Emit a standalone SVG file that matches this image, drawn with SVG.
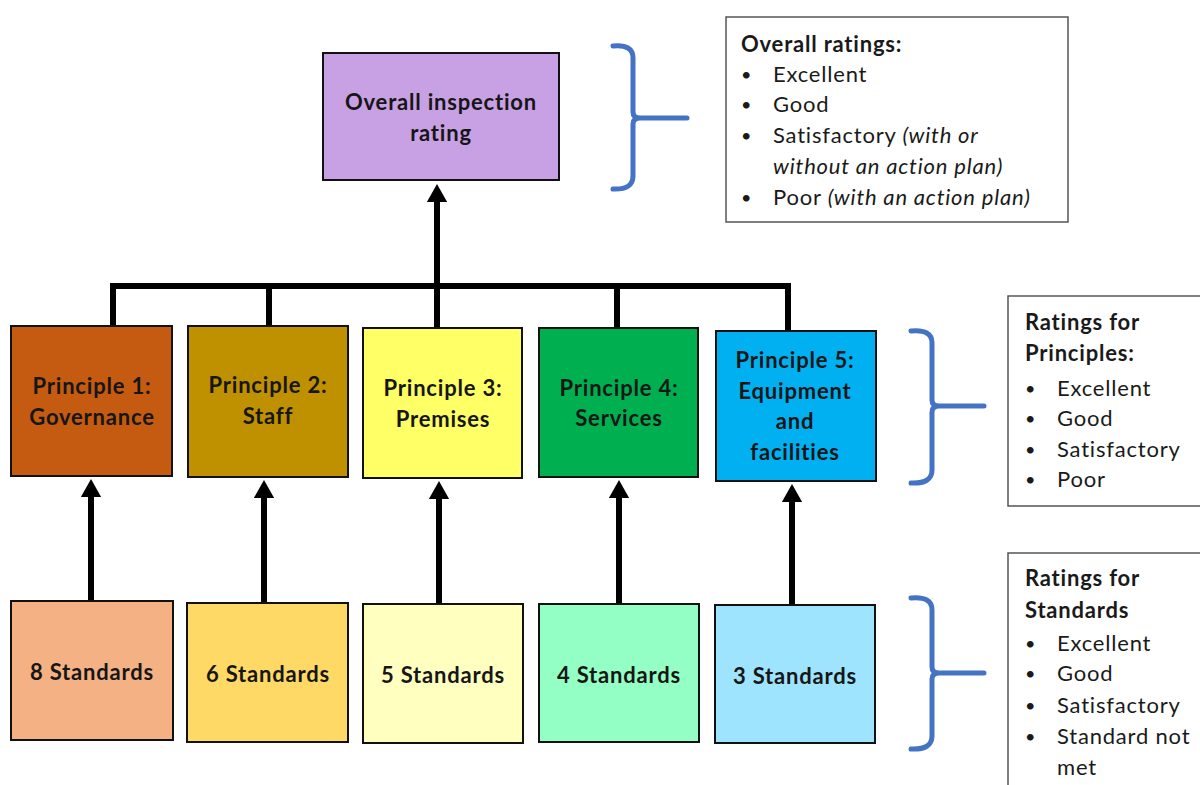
<svg xmlns="http://www.w3.org/2000/svg" width="1200" height="785" viewBox="0 0 1200 785">
<style>
.box{stroke:#111;stroke-width:2}
.lbl{font-family:Lato,"Liberation Sans",sans-serif;font-weight:bold;font-size:22px;letter-spacing:0.8px;fill:#161616;text-anchor:middle}
.conn{stroke:#000;stroke-width:6;fill:none}
.brace{stroke:#4472C4;stroke-width:5;fill:none;stroke-linecap:round}
.info{fill:#fff;stroke:#555;stroke-width:1.5}
.it{font-family:Lato,"Liberation Sans",sans-serif;font-size:22px;letter-spacing:0.8px;fill:#1a1a1a}
.bul{font-family:Lato,"Liberation Sans",sans-serif;font-size:18px;fill:#1a1a1a}
.hd{font-weight:bold}
</style>
<defs>
<marker id="ah" markerWidth="3" markerHeight="3.4" refX="0" refY="1.7" orient="auto" markerUnits="strokeWidth" viewBox="0 0 3 3.4">
<path d="M0,0 L3,1.7 L0,3.4 Z" fill="#000"/>
</marker>
</defs>
<rect width="1200" height="785" fill="#fff"/>

<g id="connectors">
<path class="conn" d="M113,329 V286 H788 V332"/>
<path class="conn" d="M269,326 V286"/>
<path class="conn" d="M617,328 V286"/>
<path class="conn" d="M437,328 V202" marker-end="url(#ah)"/>
<path class="conn" d="M91,601 V497" marker-end="url(#ah)"/>
<path class="conn" d="M264,603 V498" marker-end="url(#ah)"/>
<path class="conn" d="M439,604 V499" marker-end="url(#ah)"/>
<path class="conn" d="M619,604 V498" marker-end="url(#ah)"/>
<path class="conn" d="M792,605 V502" marker-end="url(#ah)"/>
</g>

<g id="overall">
<rect class="box" x="323" y="53" width="236" height="127" fill="#C8A0E4"/>
<text class="lbl" x="441" y="110">Overall inspection</text>
<text class="lbl" x="441" y="141">rating</text>
</g>

<g id="p1">
<rect class="box" x="11" y="326" width="161" height="150" fill="#C55A11"/>
<text class="lbl" x="92" y="394">Principle 1:</text>
<text class="lbl" x="92" y="425">Governance</text>
</g>
<g id="p2">
<rect class="box" x="188" y="326" width="160" height="151" fill="#BF9000"/>
<text class="lbl" x="268" y="393">Principle 2:</text>
<text class="lbl" x="268" y="424">Staff</text>
</g>
<g id="p3">
<rect class="box" x="363" y="328" width="159" height="150" fill="#FFFF66"/>
<text class="lbl" x="443" y="396">Principle 3:</text>
<text class="lbl" x="443" y="427">Premises</text>
</g>
<g id="p4">
<rect class="box" x="539" y="328" width="159" height="149" fill="#00B050"/>
<text class="lbl" x="619" y="396">Principle 4:</text>
<text class="lbl" x="619" y="426">Services</text>
</g>
<g id="p5">
<rect class="box" x="716" y="331" width="160" height="150" fill="#00B0F0"/>
<text class="lbl" x="795" y="368" fill="#10243a">Principle 5:</text>
<text class="lbl" x="795" y="399">Equipment</text>
<text class="lbl" x="795" y="429">and</text>
<text class="lbl" x="795" y="460">facilities</text>
</g>

<g id="s1">
<rect class="box" x="11" y="601" width="162" height="139" fill="#F4B183"/>
<text class="lbl" x="92" y="680">8 Standards</text>
</g>
<g id="s2">
<rect class="box" x="187" y="603" width="161" height="139" fill="#FFD966"/>
<text class="lbl" x="268" y="682">6 Standards</text>
</g>
<g id="s3">
<rect class="box" x="363" y="604" width="160" height="139" fill="#FFFFC0"/>
<text class="lbl" x="443" y="683">5 Standards</text>
</g>
<g id="s4">
<rect class="box" x="539" y="604" width="160" height="138" fill="#94FFC4"/>
<text class="lbl" x="619" y="683">4 Standards</text>
</g>
<g id="s5">
<rect class="box" x="715" y="605" width="160" height="138" fill="#9EE4FF"/>
<text class="lbl" x="795" y="684">3 Standards</text>
</g>

<g id="brace-overall">
<path class="brace" d="M613,46 Q633,44 633,58 V112 Q633,118 640,118 H687 M640,118 Q633,118 633,124 V176 Q633,190 613,189"/>
</g>
<g id="brace-principles">
<path class="brace" d="M911,331 Q932,329 932,343 V400 Q932,406 939,406 H984 M939,406 Q932,406 932,412 V470 Q932,484 911,483"/>
</g>
<g id="brace-standards">
<path class="brace" d="M911,598 Q932,596 932,610 V667 Q932,673 939,673 H984 M939,673 Q932,673 932,679 V736 Q932,750 911,749"/>
</g>

<g id="overall-ratings">
<rect class="info" x="726" y="17" width="342" height="205"/>
<text class="it hd" x="741" y="52">Overall ratings:</text>
<text class="bul" x="741" y="81">•</text><text class="it" x="773" y="82">Excellent</text>
<text class="bul" x="741" y="111">•</text><text class="it" x="773" y="112">Good</text>
<text class="bul" x="741" y="142">•</text><text class="it" x="773" y="143">Satisfactory <tspan font-style="italic">(with or</tspan></text>
<text class="it" x="773" y="174" font-style="italic">without an action plan)</text>
<text class="bul" x="741" y="204">•</text><text class="it" x="773" y="205">Poor <tspan font-style="italic">(with an action plan)</tspan></text>
</g>

<g id="principle-ratings">
<rect class="info" x="1008" y="296" width="200" height="210"/>
<text class="it hd" x="1025" y="330">Ratings for</text>
<text class="it hd" x="1025" y="361">Principles:</text>
<text class="bul" x="1025" y="395">•</text><text class="it" x="1057" y="396">Excellent</text>
<text class="bul" x="1025" y="425">•</text><text class="it" x="1057" y="426">Good</text>
<text class="bul" x="1025" y="456">•</text><text class="it" x="1057" y="457">Satisfactory</text>
<text class="bul" x="1025" y="486">•</text><text class="it" x="1057" y="487">Poor</text>
</g>

<g id="standard-ratings">
<rect class="info" x="1008" y="553" width="200" height="240"/>
<text class="it hd" x="1025" y="586">Ratings for</text>
<text class="it hd" x="1025" y="618">Standards</text>
<text class="bul" x="1025" y="650">•</text><text class="it" x="1057" y="651">Excellent</text>
<text class="bul" x="1025" y="680">•</text><text class="it" x="1057" y="681">Good</text>
<text class="bul" x="1025" y="712">•</text><text class="it" x="1057" y="713">Satisfactory</text>
<text class="bul" x="1025" y="743">•</text><text class="it" x="1057" y="744">Standard not</text>
<text class="it" x="1057" y="775">met</text>
</g>
</svg>
